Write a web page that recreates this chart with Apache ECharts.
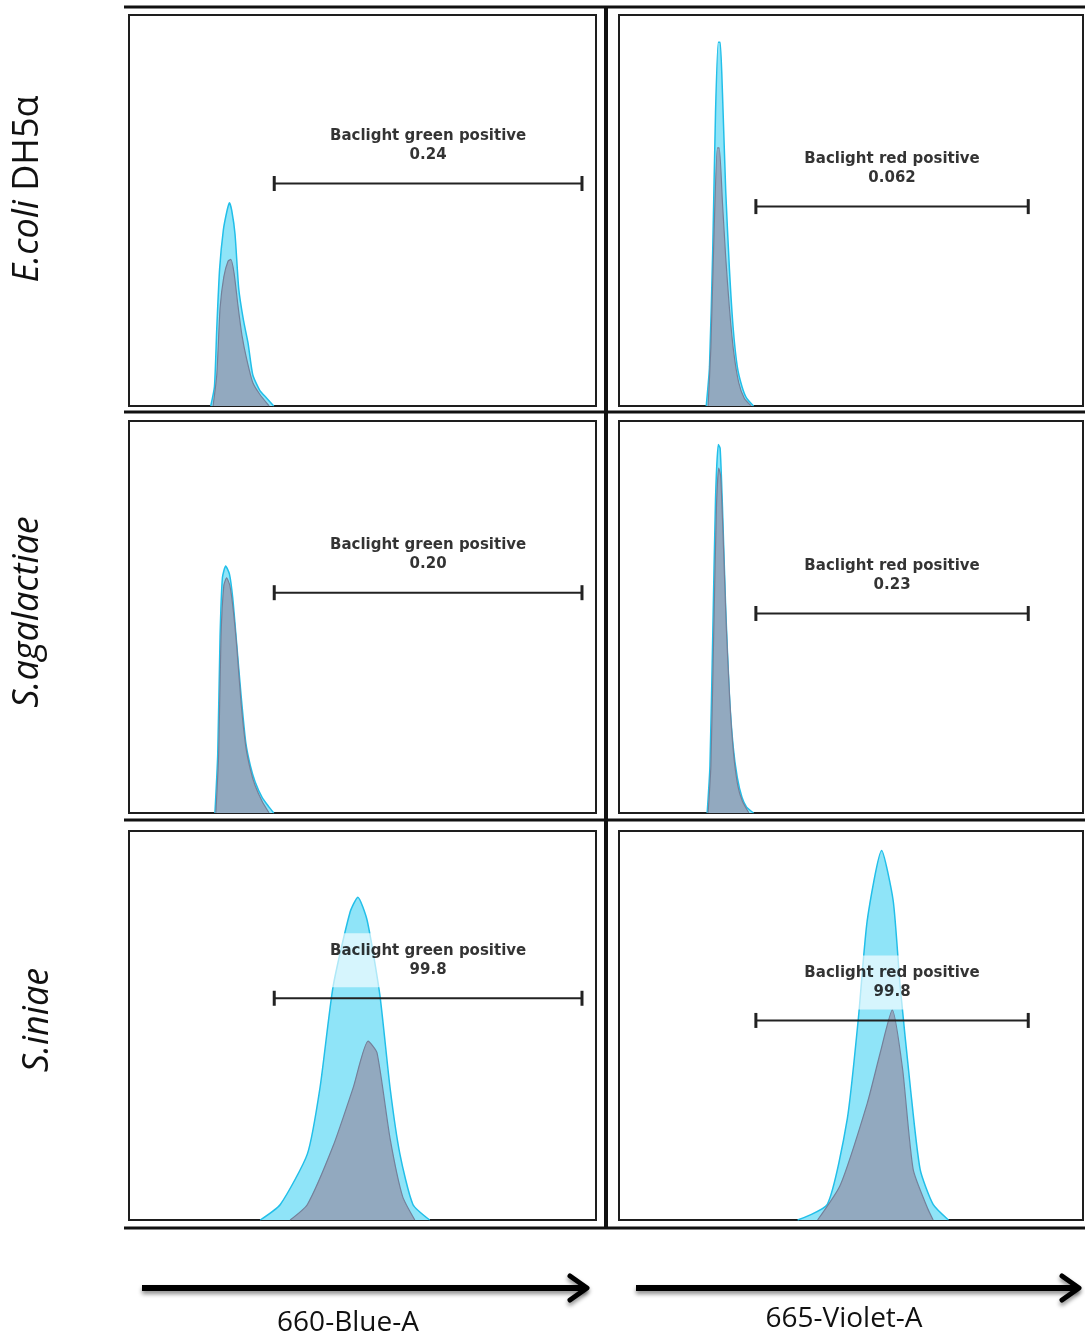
<!DOCTYPE html>
<html>
<head>
<meta charset="utf-8">
<script src="https://cdn.jsdelivr.net/npm/echarts@6/dist/echarts.min.js"></script>
<style>
  html, body { margin: 0; padding: 0; background: #fff; }
  #main { width: 1085px; height: 1338px; }
</style>
</head>
<body>
<div id="main"></div>
<script>
// rows = strains, columns = channels
var strains = ['E.coli DH5α', 'S.agalactiae', 'S.iniae'];
var channels = ['660-Blue-A', '665-Violet-A'];
var gateNames = ['Baclight green positive', 'Baclight red positive'];
var gateValues = [['0.24', '0.062'], ['0.20', '0.23'], ['99.8', '99.8']];
// gate start / end (x, % of channel range) per column, gate height per panel
var gateX = [[31.1, 97.0], [29.5, 88.2]];
var gateY = [[56.9, 51.0], [56.2, 50.9], [57.0, 51.3]];

// histogram outlines [channel %, count %] - cyan and grey overlays
var ecoliBlueCyan = [[17.5,0],[18.3,5],[18.8,20],[19.4,35],[20.2,45],[21,50],[21.5,52],[22,50],[22.7,44],[23.5,30],[24.5,22],[25.5,16],[26.5,8],[28,4],[29.5,2],[31,0]];
var ecoliBlueGrey = [[18,0],[18.8,8],[19.5,25],[20.3,33],[21.2,37],[21.8,37.5],[22.5,34],[23.3,26],[24.2,18],[25.2,12],[26.5,6],[28,3],[30,0]];
var ecoliVioletCyan = [[18.8,0],[19.5,10],[20.2,40],[20.8,75],[21.4,93],[21.8,93],[22.3,80],[23,55],[23.8,35],[24.6,20],[25.5,10],[26.5,5],[27.5,2],[29,0]];
var ecoliVioletGrey = [[19.2,0],[19.8,15],[20.5,45],[21.2,66],[21.6,66],[22.3,52],[23,38],[23.8,25],[24.7,14],[25.8,6],[27,2],[28.5,0]];
var agalBlueCyan = [[18.4,0],[19,15],[19.5,45],[20,60],[20.7,63],[21.5,61],[22.2,55],[23,44],[24,30],[25,18],[26,12],[27,8],[28.5,4],[30,1.5],[31,0]];
var agalBlueGrey = [[18.6,0],[19.2,15],[19.7,45],[20.3,58],[20.9,60],[21.6,58],[22.3,52],[23.1,42],[24,28],[25,17],[26,11],[27,7],[28.5,3],[30,0]];
var agalVioletCyan = [[19,0],[19.6,12],[20.2,45],[20.8,80],[21.4,94],[21.8,93],[22.3,78],[23,52],[23.8,30],[24.6,17],[25.5,9],[26.5,4],[27.5,1.5],[29,0]];
var agalVioletGrey = [[19.2,0],[19.8,12],[20.4,45],[21,78],[21.5,88],[21.9,86],[22.4,72],[23.1,48],[23.9,28],[24.7,15],[25.6,7],[26.6,3],[28,0]];
var iniaeBlueCyan = [[28.1,0],[32.4,4],[38.2,17],[40.9,34],[43.7,60],[47.3,79],[49,83],[51,77],[53.7,58],[55.9,34],[58,17],[60.8,4],[64.4,0]];
var iniaeBlueGrey = [[34.5,0],[38.2,4],[43.7,19],[48,34],[51.2,46],[53.1,43],[55.9,21],[58.6,6],[61.2,0]];
var iniaeVioletCyan = [[38.5,0],[44.9,4],[49.2,26],[51.6,52],[53.5,77],[56.6,95],[59.1,82],[60.6,60],[62.8,34],[64.9,13],[67.7,4],[71,0]];
var iniaeVioletGrey = [[42.8,0],[47.7,9],[53.5,30],[56.3,43],[58.9,54],[61.1,39],[63.4,13],[66.5,3],[67.7,0]];

var histCyan = [[ecoliBlueCyan, ecoliVioletCyan], [agalBlueCyan, agalVioletCyan], [iniaeBlueCyan, iniaeVioletCyan]];
var histGrey = [[ecoliBlueGrey, ecoliVioletGrey], [agalBlueGrey, agalVioletGrey], [iniaeBlueGrey, iniaeVioletGrey]];

var myChart = echarts.init(document.getElementById('main'));

// panel boxes
var colLeft = [129, 619], colWidth = [467, 464];
var rowTop = [15, 421, 831], rowHeight = [391, 392, 389];

var grids = [], xAxes = [], yAxes = [], series = [];
for (var r = 0; r < 3; r++) {
    for (var c = 0; c < 2; c++) {
        var k = r * 2 + c;
        grids.push({
            left: colLeft[c], top: rowTop[r], width: colWidth[c], height: rowHeight[r],
            show: true, borderColor: '#1e1e1e', borderWidth: 2, backgroundColor: '#fff'
        });
        xAxes.push({ gridIndex: k, type: 'value', min: 0, max: 100, show: false });
        yAxes.push({ gridIndex: k, type: 'value', min: 0, max: 100, show: false });
        series.push({
            type: 'line', xAxisIndex: k, yAxisIndex: k, data: histCyan[r][c],
            showSymbol: false, smooth: 0.2, z: 2,
            lineStyle: { color: '#22bfe9', width: 1.5 },
            areaStyle: { color: '#8fe4f8', opacity: 1 }
        });
        series.push({
            type: 'line', xAxisIndex: k, yAxisIndex: k, data: histGrey[r][c],
            showSymbol: false, smooth: 0.2, z: 3,
            lineStyle: { color: '#74809a', width: 1.2 },
            areaStyle: { color: '#92a9bf', opacity: 1 }
        });
        series.push({
            type: 'line', xAxisIndex: k, yAxisIndex: k,
            data: [[gateX[c][0], gateY[r][c]], [gateX[c][1], gateY[r][c]]],
            symbol: 'rect', symbolSize: [3, 15], showSymbol: true, z: 5,
            itemStyle: { color: '#222' },
            lineStyle: { color: '#222', width: 2 }
        });
        series.push({
            type: 'scatter', xAxisIndex: k, yAxisIndex: k, symbolSize: 0, z: 6,
            data: [[(gateX[c][0] + gateX[c][1]) / 2, gateY[r][c]]],
            label: {
                show: true, position: 'top', distance: 11,
                formatter: gateNames[c] + '\n' + gateValues[r][c],
                fontFamily: 'DejaVu Sans', fontWeight: 'bold', fontSize: 15,
                lineHeight: 19, color: '#000',
                backgroundColor: 'rgba(255,255,255,0.8)', padding: [8, 4, 8, 4]
            }
        });
    }
}

// frame lines, arrows, row and channel labels
var frame = [];
[7, 412, 820, 1228].forEach(function (y) {
    frame.push({ type: 'line', shape: { x1: 124, y1: y, x2: 1085, y2: y },
        style: { stroke: '#111', lineWidth: 3 }, z: 10 });
});
frame.push({ type: 'line', shape: { x1: 606, y1: 6, x2: 606, y2: 1229 },
    style: { stroke: '#111', lineWidth: 4 }, z: 10 });

var arrows = [[142, 590], [636, 1082]];
arrows.forEach(function (a) {
    var sh = { shadowBlur: 4, shadowColor: 'rgba(0,0,0,0.45)', shadowOffsetY: 3 };
    frame.push({ type: 'line', shape: { x1: a[0], y1: 1288, x2: a[1] - 4, y2: 1288 },
        style: Object.assign({ stroke: '#000', lineWidth: 6 }, sh) });
    frame.push({ type: 'polyline', shape: { points: [[a[1] - 20, 1276], [a[1] - 3, 1288], [a[1] - 20, 1300]] },
        style: Object.assign({ stroke: '#000', lineWidth: 5, fill: null, lineJoin: 'round', lineCap: 'round' }, sh) });
});
frame.push({ type: 'text', x: 348, y: 1323, style: { text: channels[0], fontFamily: 'Open Sans', fontSize: 28, fill: '#111', textAlign: 'center', textVerticalAlign: 'middle' } });
frame.push({ type: 'text', x: 844, y: 1319, style: { text: channels[1], fontFamily: 'Open Sans', fontSize: 28, fill: '#111', textAlign: 'center', textVerticalAlign: 'middle' } });

var rowLabelPos = [[28, 189], [28, 612], [38, 1020]];
strains.forEach(function (s, i) {
    var parts = s.split(' ');
    var txt = '{i|' + parts[0] + '}' + (parts[1] ? '{n| ' + parts[1] + '}' : '');
    frame.push({
        type: 'text', x: rowLabelPos[i][0], y: rowLabelPos[i][1], rotation: Math.PI / 2,
        style: {
            text: txt, textAlign: 'center', textVerticalAlign: 'middle', fill: '#111',
            rich: {
                i: { fontFamily: 'Open Sans', fontStyle: 'italic', fontSize: 36, fill: '#111' },
                n: { fontFamily: 'Open Sans', fontSize: 36, fill: '#111' }
            }
        }
    });
});

var option = {
    backgroundColor: '#fff',
    animation: false,
    grid: grids,
    xAxis: xAxes,
    yAxis: yAxes,
    series: series,
    graphic: frame
};

myChart.setOption(option);
</script>
</body>
</html>
